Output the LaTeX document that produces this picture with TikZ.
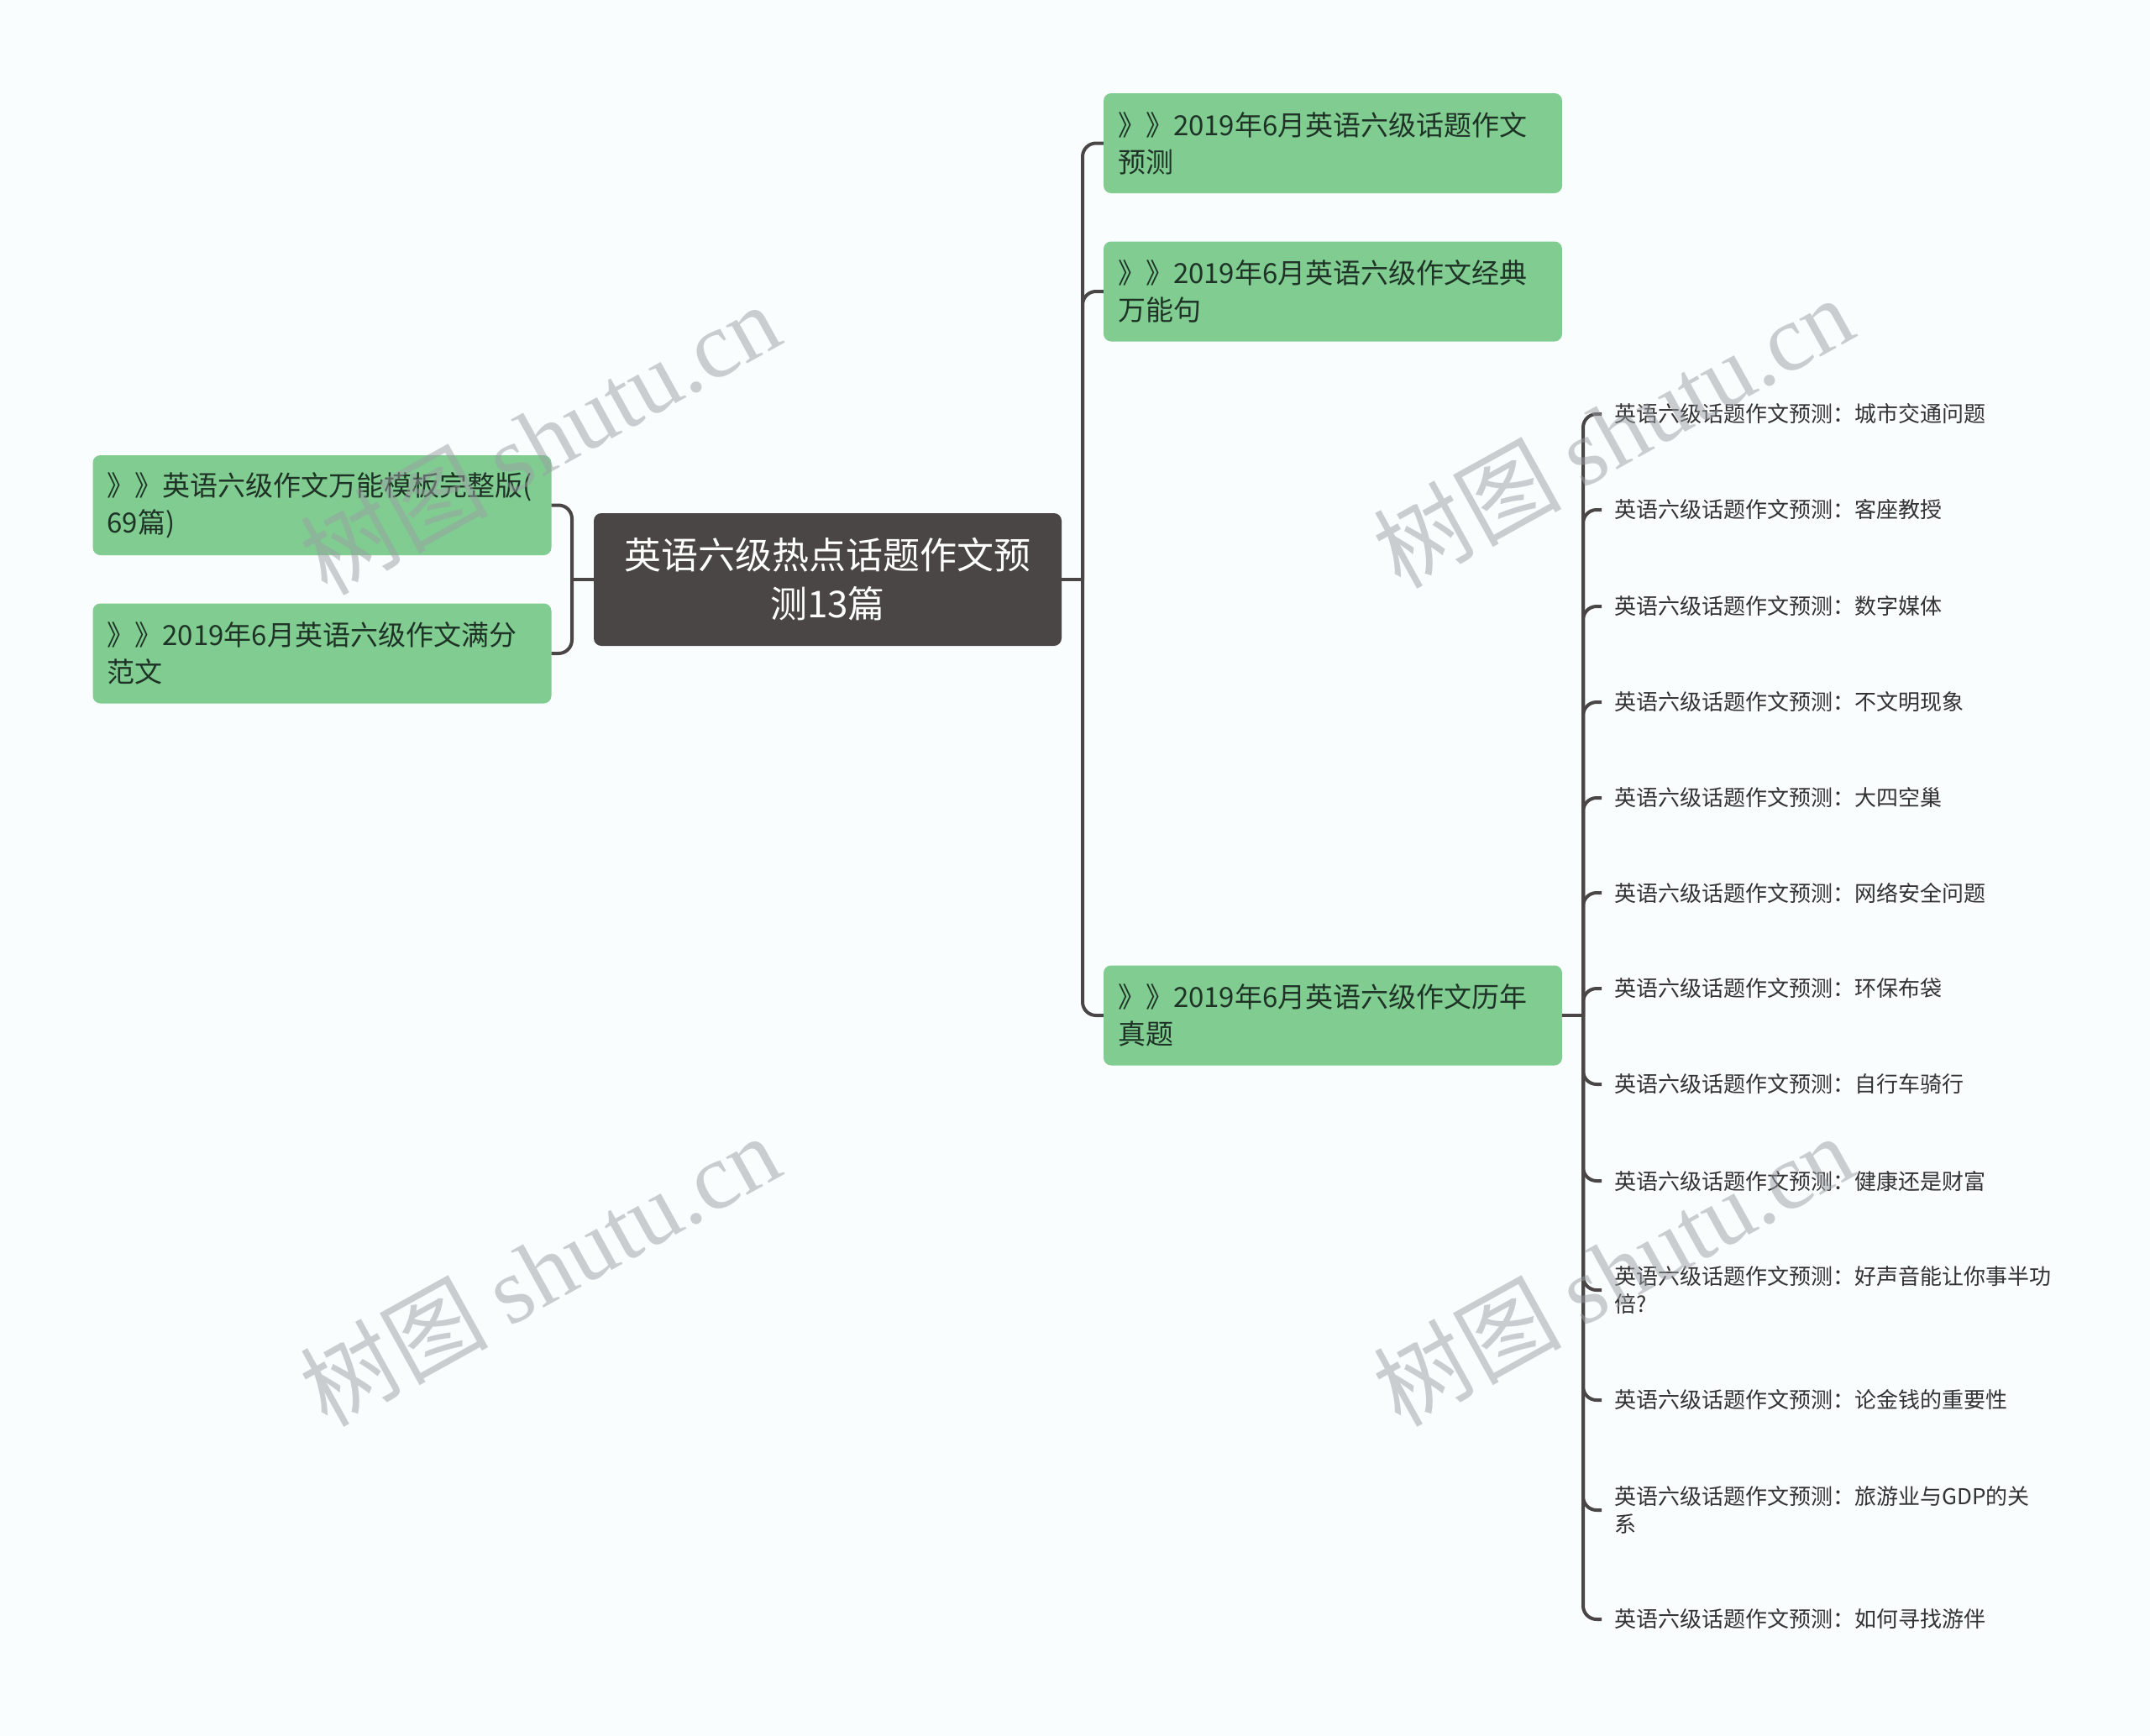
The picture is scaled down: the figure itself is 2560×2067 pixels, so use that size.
\documentclass[tikz,border=0pt]{standalone}
\usepackage{fontspec}
\setmainfont{Noto Sans CJK SC}
\newfontfamily\markfont{Liberation Serif}
\usepackage{xcolor}
\usepackage{tikz}
\usetikzlibrary{positioning,calc}
\definecolor{PageBg}{HTML}{F9FDFE}
\definecolor{TopicFill}{HTML}{4B4646}
\definecolor{BranchFill}{HTML}{80CC91}
\definecolor{BranchText}{HTML}{1E3326}
\definecolor{LeafText}{HTML}{333333}
\definecolor{LinkGray}{HTML}{4B4646}
\definecolor{MarkGray}{HTML}{9A9FA3}

\begin{document}
\begin{tikzpicture}[
  x=1pt,y=-1pt,
  topic/.style={rectangle,rounded corners=9pt,fill=TopicFill,text=white,
    minimum width=557pt,minimum height=158pt,align=center,
    font=\fontsize{44}{58}\selectfont},
  branch/.style={rectangle,rounded corners=9pt,fill=BranchFill,text=BranchText,
    text width=512pt,inner xsep=17pt,minimum height=119pt,align=left,
    font=\fontsize{33}{44}\selectfont},
  leaf/.style={anchor=west,inner xsep=15pt,inner ysep=4pt,align=left,text=LeafText,
    font=\fontsize{26}{33}\selectfont},
  link/.style={line width=4pt,LinkGray,rounded corners=16pt},
  watermark/.style={rotate=29,text=MarkGray,opacity=0.5,
    font=\fontsize{112}{112}\selectfont}
]
\fill[PageBg] (0,0) rectangle (2560,2067);
\useasboundingbox (0,0) rectangle (2560,2067);

% centre
\node[topic] (root) at (985.5,690) {英语六级热点话题作文预\\测13篇};

% left side
\node[branch] (l1) at (383.5,601.5) {》》英语六级作文万能模板完整版(\\69篇)};
\node[branch] (l2) at (383.5,778) {》》2019年6月英语六级作文满分\\范文};

% right side
\node[branch] (r1) at (1587,170.5) {》》2019年6月英语六级话题作文\\预测};
\node[branch] (r2) at (1587,347) {》》2019年6月英语六级作文经典\\万能句};
\node[branch] (r3) at (1587,1209) {》》2019年6月英语六级作文历年\\真题};

% topics under r3
\node[leaf] (t1) at (1907,493) {英语六级话题作文预测：城市交通问题};
\node[leaf] (t2) at (1907,607) {英语六级话题作文预测：客座教授};
\node[leaf] (t3) at (1907,722) {英语六级话题作文预测：数字媒体};
\node[leaf] (t4) at (1907,836) {英语六级话题作文预测：不文明现象};
\node[leaf] (t5) at (1907,950) {英语六级话题作文预测：大四空巢};
\node[leaf] (t6) at (1907,1063) {英语六级话题作文预测：网络安全问题};
\node[leaf] (t7) at (1907,1177) {英语六级话题作文预测：环保布袋};
\node[leaf] (t8) at (1907,1291) {英语六级话题作文预测：自行车骑行};
\node[leaf] (t9) at (1907,1406) {英语六级话题作文预测：健康还是财富};
\node[leaf] (t10) at (1907,1536) {英语六级话题作文预测：好声音能让你事半功\\倍?};
\node[leaf] (t11) at (1907,1667) {英语六级话题作文预测：论金钱的重要性};
\node[leaf] (t12) at (1907,1798) {英语六级话题作文预测：旅游业与GDP的关\\系};
\node[leaf] (t13) at (1907,1928) {英语六级话题作文预测：如何寻找游伴};

% junctions
\coordinate (lj) at (681,690);
\coordinate (rj) at (1289,690);
\coordinate (tj) at (1885,1209);

\draw[link] (root.west) -- (lj);
\draw[link] (lj) |- (l1.east);
\draw[link] (lj) |- (l2.east);

\draw[link] (root.east) -- (rj);
\draw[link] (rj) |- (r1.west);
\draw[link] (rj) |- (r2.west);
\draw[link] (rj) |- (r3.west);

\draw[link] (r3.east) -- (tj);
\draw[link] (tj) |- (t1.west);
\draw[link] (tj) |- (t2.west);
\draw[link] (tj) |- (t3.west);
\draw[link] (tj) |- (t4.west);
\draw[link] (tj) |- (t5.west);
\draw[link] (tj) |- (t6.west);
\draw[link] (tj) |- (t7.west);
\draw[link] (tj) |- (t8.west);
\draw[link] (tj) |- (t9.west);
\draw[link] (tj) |- (t10.west);
\draw[link] (tj) |- (t11.west);
\draw[link] (tj) |- (t12.west);
\draw[link] (tj) |- (t13.west);

% watermark
\node[watermark] (m1) at (642,522) {树图 {\markfont shutu.cn}};
\node[watermark] (m2) at (642,1512) {树图 {\markfont shutu.cn}};
\node[watermark] (m3) at (1920,514) {树图 {\markfont shutu.cn}};
\node[watermark] (m4) at (1920,1512) {树图 {\markfont shutu.cn}};
\end{tikzpicture}
\end{document}
